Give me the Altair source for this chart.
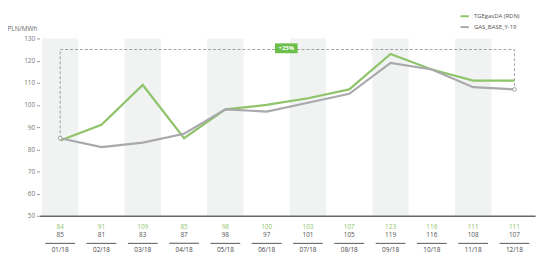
import altair as alt
import pandas as pd

months = ["01/18", "02/18", "03/18", "04/18", "05/18", "06/18",
          "07/18", "08/18", "09/18", "10/18", "11/18", "12/18"]
tge = [84, 91, 109, 85, 98, 100, 103, 107, 123, 116, 111, 111]
gas = [85, 81, 83, 87, 98, 97, 101, 105, 119, 116, 108, 107]
series_names = ["TGEgasDA (RDN)", "GAS_BASE_Y-19"]
band_months = ["01/18", "03/18", "05/18", "07/18", "09/18", "11/18"]
box_months = ["01/18", "01/18", "12/18", "12/18"]
box_values = [85, 125, 125, 107]
circle_months = ["01/18", "12/18"]
circle_values = [85, 107]
change_label = ["+25%"]

GREEN = "#8fc46a"
GRAY = "#a9a9ad"
FONT = "Open Sans"
W, H = 503, 180

df = pd.DataFrame({"month": months, "tge": tge, "gas": gas})
long = pd.concat([
    pd.DataFrame({"month": months, "value": tge, "series": series_names[0], "o": 1}),
    pd.DataFrame({"month": months, "value": gas, "series": series_names[1], "o": 0}),
])
bands = pd.DataFrame({"month": band_months})
box = pd.DataFrame({"month": box_months, "value": box_values, "o": range(4)})
circles = pd.DataFrame({"month": circle_months, "value": circle_values})
ann = pd.DataFrame({"label": change_label})

xscale = alt.Scale(domain=months, paddingInner=0, paddingOuter=0)
yscale = alt.Scale(domain=[50, 130], nice=False, zero=False)

x_axis = alt.Axis(title=None, ticks=False, domain=True, domainColor="#666",
                  domainWidth=1.5, labelPadding=31, labelFontSize=6.5,
                  labelColor="#444", labelFont=FONT, labelAngle=0, labelOverlap=False)
x_enc = alt.X("month:N", scale=xscale, sort=months, axis=x_axis)

y_axis = alt.Axis(title="PLN/MWh", titleAngle=0, titleX=-33, titleY=-7,
                  titleAlign="left", titleBaseline="bottom",
                  titleFontSize=6.5, titleFontWeight="normal",
                  titleColor="#666", titleFont=FONT,
                  values=list(range(50, 131, 10)), grid=False, domain=False,
                  tickSize=3, tickColor="#999", labelFontSize=6.5, labelOverlap=False,
                  labelColor="#777", labelFont=FONT, labelPadding=2)
y_enc = alt.Y("value:Q", scale=yscale, axis=y_axis)

base_bands = alt.Chart(bands).mark_rect(
    color="#f1f3f3", width=alt.RelativeBandSize(0.88)
).encode(
    x=x_enc,
    y=alt.value(0), y2=alt.value(H),
)

box_line = alt.Chart(box).mark_line(
    strokeDash=[3, 2], color="#8a8a8a", strokeWidth=0.8
).encode(
    x=x_enc,
    y=y_enc,
    order="o:Q",
)

lines = alt.Chart(long).mark_line(strokeWidth=2.2).encode(
    x=x_enc,
    y=y_enc,
    color=alt.Color("series:N",
                    scale=alt.Scale(domain=series_names, range=[GREEN, GRAY]),
                    legend=alt.Legend(title=None, orient="none", legendX=426, legendY=-28,
                                      symbolType="stroke", symbolStrokeWidth=2,
                                      symbolSize=70, labelFontSize=6, labelFont=FONT,
                                      labelColor="#555", rowPadding=1)),
    detail="series:N",
    order="o:Q",
)

pts = alt.Chart(circles).mark_point(
    shape="circle", filled=True, fill="white", stroke="#8a8a8a", strokeWidth=0.8, size=14, opacity=1
).encode(x=x_enc, y=y_enc)

tge_text = alt.Chart(df).mark_text(fontSize=6.5, color=GREEN, font=FONT).encode(
    x=x_enc, y=alt.value(H + 11.5), text="tge:Q")
gas_text = alt.Chart(df).mark_text(fontSize=6.5, color="#555", font=FONT).encode(
    x=x_enc, y=alt.value(H + 19.5), text="gas:Q")
underline = alt.Chart(df).mark_rect(
    color="#555", width=alt.RelativeBandSize(0.72)
).encode(x=x_enc, y=alt.value(H + 27.5), y2=alt.value(H + 28.5))

ann_box = alt.Chart(ann).mark_rect(color="#6cbf4a").encode(
    x=alt.value(239), x2=alt.value(262), y=alt.value(5), y2=alt.value(15))
ann_text = alt.Chart(ann).mark_text(color="white", fontSize=6, fontWeight="bold", font=FONT).encode(
    x=alt.value(250.5), y=alt.value(10), text="label:N")

chart = alt.layer(
    base_bands, box_line, lines, pts, tge_text, gas_text, underline, ann_box, ann_text
).properties(
    width=W, height=H,
    autosize=alt.AutoSizeParams(type="none"),
    padding={"left": 32, "top": 29, "right": 7, "bottom": 43},
).configure_view(stroke=None)

chart.save("out.html", embed_options={"renderer": "svg", "actions": False})
